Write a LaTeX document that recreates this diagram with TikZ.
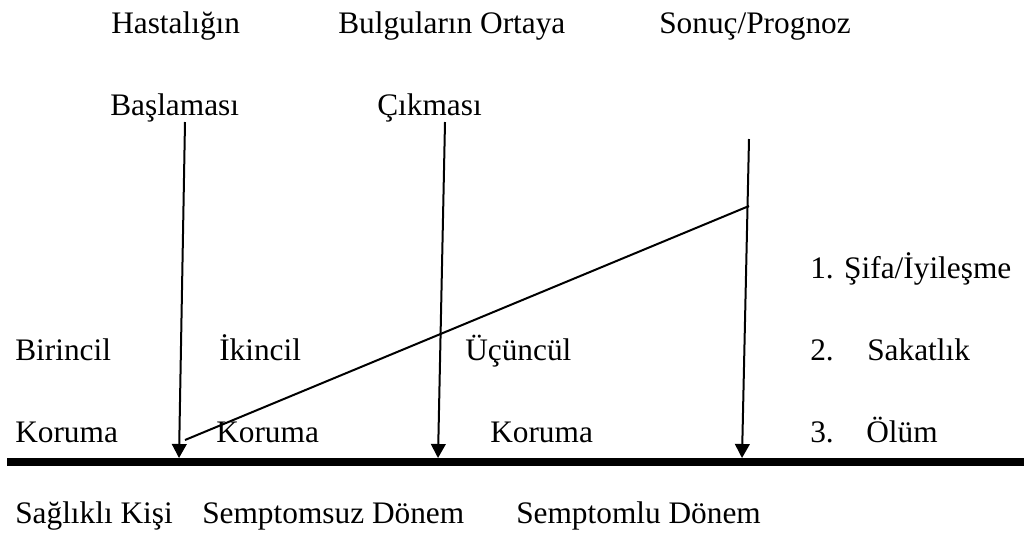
\documentclass[tikz,border=0pt]{standalone}
\usepackage{fontspec}
\setmainfont{Liberation Serif}
\usetikzlibrary{arrows.meta}
\begin{document}
\begin{tikzpicture}[x=0.75pt,y=-0.75pt,
  lbl/.style={anchor=base west,inner sep=0pt,font=\fontsize{23.5pt}{28pt}\selectfont},
  axisline/.style={line width=6pt},
  tick/.style={line width=1.5pt,-{Triangle[width=11pt,length=10.5pt]}},
  diag/.style={line width=1.5pt}]
\useasboundingbox (0,0) rectangle (1024,533);
% top labels
\node[lbl] (h1) at (111,33) {Hastalığın};
\node[lbl] (h2) at (110,115) {Başlaması};
\node[lbl] (b1) at (338,33) {Bulguların Ortaya};
\node[lbl] (b2) at (377,115) {Çıkması};
\node[lbl] (s1) at (659,33) {Sonuç/Prognoz};
% outcome list
\node[lbl] (o1) at (810,278) {1. Şifa/İyileşme};
\node[lbl] (o2n) at (810,360) {2.};
\node[lbl] (o2) at (867,360) {Sakatlık};
\node[lbl] (o3n) at (810,442) {3.};
\node[lbl] (o3) at (866,442) {Ölüm};
% prevention labels
\node[lbl] (p1) at (15,360) {Birincil};
\node[lbl] (p2) at (219,360) {İkincil};
\node[lbl] (p3) at (465,360) {Üçüncül};
\node[lbl] (k1) at (15,442) {Koruma};
\node[lbl] (k2) at (216,442) {Koruma};
\node[lbl] (k3) at (490,442) {Koruma};
% bottom labels
\node[lbl] (d1) at (15,523) {Sağlıklı Kişi};
\node[lbl] (d2) at (202,523) {Semptomsuz Dönem};
\node[lbl] (d3) at (516,523) {Semptomlu Dönem};
% coordinates
\coordinate (axL) at (7,462);
\coordinate (axR) at (1024,462);
\coordinate (a1t) at (185,122);
\coordinate (a1b) at (179,458);
\coordinate (a2t) at (445,122);
\coordinate (a2b) at (438,458);
\coordinate (a3t) at (749,139);
\coordinate (a3b) at (742,458);
\coordinate (dl) at (185,440);
\coordinate (du) at (749,206);
% lines
\draw[axisline] (axL) -- (axR);
\draw[tick] (a1t) -- (a1b);
\draw[tick] (a2t) -- (a2b);
\draw[tick] (a3t) -- (a3b);
\draw[diag] (dl) -- (du);
\end{tikzpicture}
\end{document}
